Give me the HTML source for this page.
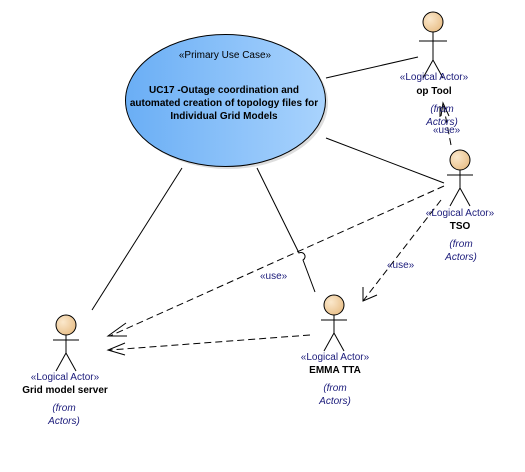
<!DOCTYPE html>
<html><head><meta charset="utf-8"><style>
html,body{margin:0;padding:0;background:#fff;}
svg{display:block;font-family:"Liberation Sans",sans-serif;}
.s{fill:#1a1a7a;font-size:10px;}
.b{fill:#000;font-size:10px;font-weight:bold;}
.i{fill:#1a1a7a;font-size:10px;font-style:italic;}
</style></head><body>
<svg width="525" height="472" viewBox="0 0 525 472">
<defs>
<linearGradient id="g" x1="0" x2="1" y1="0" y2="0"><stop offset="0" stop-color="#6aaef5"/><stop offset="1" stop-color="#a9d3fd"/></linearGradient>
<radialGradient id="h" cx="0.35" cy="0.35" r="0.7"><stop offset="0" stop-color="#fbe8cc"/><stop offset="1" stop-color="#e9c08a"/></radialGradient>
</defs>
<ellipse cx="228" cy="103" rx="100" ry="66" fill="#bbb" opacity="0.5"/>
<ellipse cx="225.5" cy="100.5" rx="100" ry="66" fill="url(#g)" stroke="#000" stroke-width="1"/>
<text x="225" y="58" text-anchor="middle" class="s" style="fill:#000">«Primary Use Case»</text>
<text x="224" y="93" text-anchor="middle" class="b">UC17 -Outage coordination and</text>
<text x="224" y="106" text-anchor="middle" class="b">automated creation of topology files for</text>
<text x="224" y="119" text-anchor="middle" class="b">Individual Grid Models</text>
<g stroke="#000" fill="none" stroke-width="1">
<line x1="326" y1="78" x2="418" y2="57"/>
<line x1="326" y1="138" x2="444" y2="183"/>
<line x1="182" y1="168" x2="92" y2="310"/>
<path d="M257 168 L299 253 A4 4 0 0 1 303 260 L315 292"/>
</g>
<g stroke="#000" fill="none" stroke-width="1" stroke-dasharray="7,4">
<line x1="444" y1="186" x2="110" y2="336"/>
<line x1="310" y1="335" x2="110" y2="350"/>
<line x1="441" y1="200" x2="363" y2="301"/>
<line x1="451" y1="145" x2="443" y2="103"/>
</g>
<g stroke="#000" fill="none" stroke-width="1">
<polyline points="126,323 108,336 127,336"/>
<polyline points="125,343 108,350 125,355"/>
<polyline points="363,287 363,301 377,295"/>
<polyline points="441,116 443,103 449,116"/>
<line x1="440" y1="106" x2="440" y2="117"/>
</g>
<text x="260" y="279" class="s">«use»</text>
<text x="387" y="268" class="s">«use»</text>
<text x="433" y="133" class="s">«use»</text>
<g stroke="#000" stroke-width="1" fill="none">
<g transform="translate(433,22)"><circle r="10" fill="url(#h)"/><line x1="0" y1="10" x2="0" y2="38"/><line x1="-14" y1="19" x2="14" y2="19"/><line x1="0" y1="38" x2="-10" y2="56"/><line x1="0" y1="38" x2="10" y2="56"/></g>
<g transform="translate(460,160)"><circle r="10" fill="url(#h)"/><line x1="0" y1="10" x2="0" y2="28"/><line x1="-13" y1="15" x2="13" y2="15"/><line x1="0" y1="28" x2="-10" y2="46"/><line x1="0" y1="28" x2="10" y2="46"/></g>
<g transform="translate(66,325)"><circle r="10" fill="url(#h)"/><line x1="0" y1="10" x2="0" y2="28"/><line x1="-13" y1="15" x2="13" y2="15"/><line x1="0" y1="28" x2="-10" y2="46"/><line x1="0" y1="28" x2="10" y2="46"/></g>
<g transform="translate(334,305)"><circle r="10" fill="url(#h)"/><line x1="0" y1="10" x2="0" y2="28"/><line x1="-13" y1="15" x2="13" y2="15"/><line x1="0" y1="28" x2="-10" y2="46"/><line x1="0" y1="28" x2="10" y2="46"/></g>
</g>
<text x="434" y="80" text-anchor="middle" class="s">«Logical Actor»</text>
<text x="434" y="94" text-anchor="middle" class="b">op Tool</text>
<text x="442" y="112" text-anchor="middle" class="i">(from</text>
<text x="442" y="125" text-anchor="middle" class="i">Actors)</text>
<text x="460" y="216" text-anchor="middle" class="s">«Logical Actor»</text>
<text x="460" y="229" text-anchor="middle" class="b">TSO</text>
<text x="461" y="247" text-anchor="middle" class="i">(from</text>
<text x="461" y="260" text-anchor="middle" class="i">Actors)</text>
<text x="65" y="380" text-anchor="middle" class="s">«Logical Actor»</text>
<text x="65" y="393" text-anchor="middle" class="b">Grid model server</text>
<text x="64" y="411" text-anchor="middle" class="i">(from</text>
<text x="64" y="424" text-anchor="middle" class="i">Actors)</text>
<text x="335" y="360" text-anchor="middle" class="s">«Logical Actor»</text>
<text x="335" y="373" text-anchor="middle" class="b">EMMA TTA</text>
<text x="335" y="391" text-anchor="middle" class="i">(from</text>
<text x="335" y="404" text-anchor="middle" class="i">Actors)</text>
</svg>
</body></html>
